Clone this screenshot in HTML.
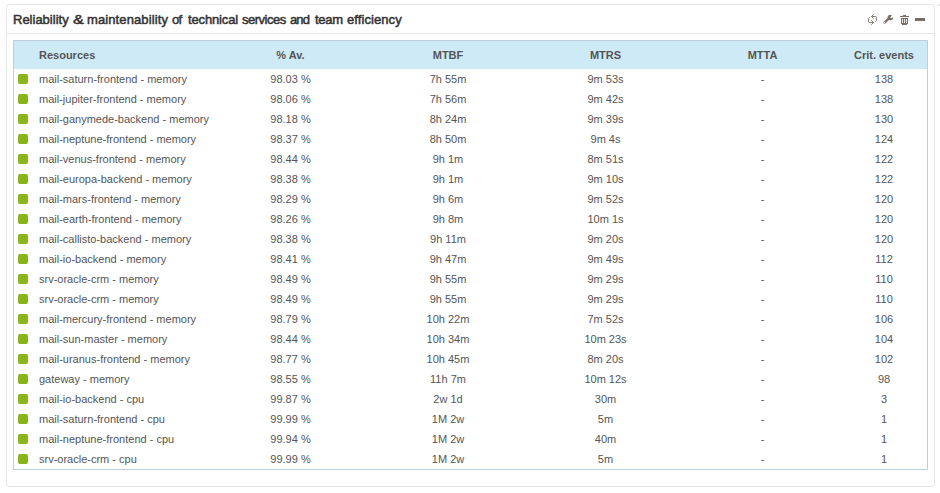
<!DOCTYPE html>
<html><head><meta charset="utf-8">
<style>
*{margin:0;padding:0;box-sizing:border-box}
html,body{width:940px;height:493px;background:#fff;overflow:hidden;font-family:"Liberation Sans",sans-serif;color:#555}
.panel{position:absolute;left:6px;top:4px;width:929px;height:483px;border:1px solid #e6e6e6;border-radius:3px}
.tw{position:absolute;top:12px;font-size:13px;color:#333;-webkit-text-stroke:0.5px #333;white-space:nowrap}
.mark{position:absolute;left:938px;top:4px;width:2px;height:2px;background:#e6e6e6}
.sep{position:absolute;left:0;right:0;top:28px;height:1px;background:#e8e8e8}
.icons{position:absolute;left:860px;top:8px;width:72px;height:22px}
.tbl{position:absolute;left:13px;top:40px;width:915px;height:430px;border:1px solid #bdcde2}
.hdr{position:absolute;left:0;top:0;right:0;height:28px;background:#cfeaf7}
table{position:absolute;left:0;top:0;border-collapse:collapse;width:913px;table-layout:fixed}
th{height:28px;font-size:11px;font-weight:bold;color:#555;text-align:center}
td{height:20px;font-size:11px;text-align:center}
th.c0,td.c0{text-align:left;padding-left:25px}
.sq{position:absolute;left:4px;width:10px;height:10px;background:#8ab41a;border-radius:2px;margin-top:1px}
</style></head><body>
<div class="panel">

<div class="sep"></div>
</div>
<div class="mark"></div>
<span class="tw" style="left:13px">Reliability</span><span class="tw" style="left:73px;transform:scaleX(1.25);transform-origin:left">&amp;</span><span class="tw" style="left:87px;letter-spacing:0.11px">maintenability</span><span class="tw" style="left:172px;letter-spacing:-0.8px">of</span><span class="tw" style="left:188px;letter-spacing:-0.14px">technical</span><span class="tw" style="left:242px;letter-spacing:-0.49px">services</span><span class="tw" style="left:290px;letter-spacing:-0.9px">and</span><span class="tw" style="left:315px;letter-spacing:-0.3px">team</span><span class="tw" style="left:347px;letter-spacing:0.08px">efficiency</span>
<svg class="icons" viewBox="860 8 72 22">
<g fill="none" stroke="#7a7166" stroke-width="0.9" stroke-linecap="round" stroke-linejoin="round">
<path d="M871.5 16.5H875.5Q876.5 16.5 876.5 17.5V20.5L875.5 21.5"/>
<path d="M873.5 14.5L871.5 16.5L873.5 18.5"/>
<path d="M869.5 17.5L868.5 18.5V21.5Q868.5 22.5 869.5 22.5H873.5"/>
<path d="M871.5 20.5L873.5 22.5L871.5 24.5"/>
<path d="M884.5 22.7L889.2 18.2" stroke-width="2.3"/>
</g>
<g fill="#7a7166">
<circle cx="890.4" cy="17.4" r="2.75"/>
<rect x="900" y="16" width="9" height="1"/>
<rect x="903" y="15" width="3" height="1"/>
<rect x="901" y="18" width="7" height="6"/>
<rect x="902" y="24" width="5" height="1"/>
<rect x="915" y="18" width="10" height="3"/>
</g>
<g fill="#fff">
<path d="M890.3 17.4L892.3 14.5L894.2 14.2L894.2 16.6L891.3 18.2Z"/>
<circle cx="884.5" cy="22.6" r="0.8"/>
</g>
<g fill="#e8e6e3">
<rect x="902" y="19" width="1" height="4"/>
<rect x="904" y="19" width="1" height="4"/>
<rect x="906" y="19" width="1" height="4"/>
</g>
</svg>
<div class="tbl"><div class="hdr"></div>
<table>
<colgroup><col style="width:198px"><col style="width:157px"><col style="width:158px"><col style="width:157px"><col style="width:157px"><col style="width:86px"></colgroup>
<tr><th class="c0">Resources</th><th>% Av.</th><th>MTBF</th><th>MTRS</th><th>MTTA</th><th>Crit. events</th></tr>
<tr><td class="c0"><span class="sq"></span>mail-saturn-frontend - memory</td><td>98.03 %</td><td>7h 55m</td><td>9m 53s</td><td>-</td><td>138</td></tr>
<tr><td class="c0"><span class="sq"></span>mail-jupiter-frontend - memory</td><td>98.06 %</td><td>7h 56m</td><td>9m 42s</td><td>-</td><td>138</td></tr>
<tr><td class="c0"><span class="sq"></span>mail-ganymede-backend - memory</td><td>98.18 %</td><td>8h 24m</td><td>9m 39s</td><td>-</td><td>130</td></tr>
<tr><td class="c0"><span class="sq"></span>mail-neptune-frontend - memory</td><td>98.37 %</td><td>8h 50m</td><td>9m 4s</td><td>-</td><td>124</td></tr>
<tr><td class="c0"><span class="sq"></span>mail-venus-frontend - memory</td><td>98.44 %</td><td>9h 1m</td><td>8m 51s</td><td>-</td><td>122</td></tr>
<tr><td class="c0"><span class="sq"></span>mail-europa-backend - memory</td><td>98.38 %</td><td>9h 1m</td><td>9m 10s</td><td>-</td><td>122</td></tr>
<tr><td class="c0"><span class="sq"></span>mail-mars-frontend - memory</td><td>98.29 %</td><td>9h 6m</td><td>9m 52s</td><td>-</td><td>120</td></tr>
<tr><td class="c0"><span class="sq"></span>mail-earth-frontend - memory</td><td>98.26 %</td><td>9h 8m</td><td>10m 1s</td><td>-</td><td>120</td></tr>
<tr><td class="c0"><span class="sq"></span>mail-callisto-backend - memory</td><td>98.38 %</td><td>9h 11m</td><td>9m 20s</td><td>-</td><td>120</td></tr>
<tr><td class="c0"><span class="sq"></span>mail-io-backend - memory</td><td>98.41 %</td><td>9h 47m</td><td>9m 49s</td><td>-</td><td>112</td></tr>
<tr><td class="c0"><span class="sq"></span>srv-oracle-crm - memory</td><td>98.49 %</td><td>9h 55m</td><td>9m 29s</td><td>-</td><td>110</td></tr>
<tr><td class="c0"><span class="sq"></span>srv-oracle-crm - memory</td><td>98.49 %</td><td>9h 55m</td><td>9m 29s</td><td>-</td><td>110</td></tr>
<tr><td class="c0"><span class="sq"></span>mail-mercury-frontend - memory</td><td>98.79 %</td><td>10h 22m</td><td>7m 52s</td><td>-</td><td>106</td></tr>
<tr><td class="c0"><span class="sq"></span>mail-sun-master - memory</td><td>98.44 %</td><td>10h 34m</td><td>10m 23s</td><td>-</td><td>104</td></tr>
<tr><td class="c0"><span class="sq"></span>mail-uranus-frontend - memory</td><td>98.77 %</td><td>10h 45m</td><td>8m 20s</td><td>-</td><td>102</td></tr>
<tr><td class="c0"><span class="sq"></span>gateway - memory</td><td>98.55 %</td><td>11h 7m</td><td>10m 12s</td><td>-</td><td>98</td></tr>
<tr><td class="c0"><span class="sq"></span>mail-io-backend - cpu</td><td>99.87 %</td><td>2w 1d</td><td>30m</td><td>-</td><td>3</td></tr>
<tr><td class="c0"><span class="sq"></span>mail-saturn-frontend - cpu</td><td>99.99 %</td><td>1M 2w</td><td>5m</td><td>-</td><td>1</td></tr>
<tr><td class="c0"><span class="sq"></span>mail-neptune-frontend - cpu</td><td>99.94 %</td><td>1M 2w</td><td>40m</td><td>-</td><td>1</td></tr>
<tr><td class="c0"><span class="sq"></span>srv-oracle-crm - cpu</td><td>99.99 %</td><td>1M 2w</td><td>5m</td><td>-</td><td>1</td></tr>

</table>
</div>
</body></html>
